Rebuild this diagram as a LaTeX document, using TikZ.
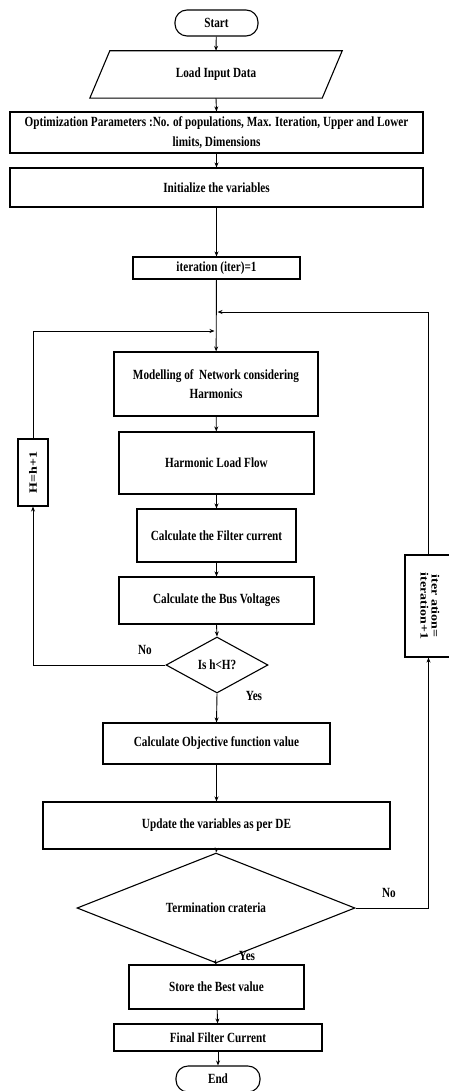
\documentclass[tikz,border=0pt]{standalone}
\usepackage{fontspec}
\setmainfont{Liberation Serif}[FakeStretch=0.8]
\newfontfamily\rotfont{Liberation Serif}[FakeStretch=1.25]
\usetikzlibrary{shapes.geometric,arrows.meta}
\begin{document}
\begin{tikzpicture}[x=1pt,y=-1pt,
  txt/.style={font=\bfseries\fontsize{14}{19.5}\selectfont, align=center},
  box/.style={txt, draw, line width=1.1pt, inner sep=2pt},
  term/.style={box, rounded corners=12pt},
  dia/.style={box, diamond, inner sep=0pt},
  rbox/.style={draw, line width=1.1pt, inner sep=0pt, font=\rotfont\bfseries\fontsize{11.2}{12}\selectfont},
  arr/.style={line width=0.9pt, -{Stealth[length=5pt,width=4pt]}},
  lbl/.style={font=\bfseries\fontsize{14}{16}\selectfont, inner sep=0pt}
]
\useasboundingbox (0,0) rectangle (449,1091);

\node[term, minimum width=83, minimum height=26] (start) at (216.5,23) {Start};
\node[txt, minimum width=232, minimum height=47, inner sep=0pt] (ld) at (216,74.5) {Load Input Data};
\draw[line width=1.1pt] ([xshift=10pt]ld.north west) -- ([xshift=10pt]ld.north east) -- ([xshift=-10pt]ld.south east) -- ([xshift=-10pt]ld.south west) -- cycle;
\node[box, minimum width=413, minimum height=41] (opt) at (216.5,132.5) {Optimization Parameters :No. of populations, Max. Iteration, Upper and Lower\\limits, Dimensions};
\node[box, minimum width=413, minimum height=39] (init) at (216.5,187.5) {Initialize the variables};
\node[box, minimum width=167, minimum height=22] (iter) at (216.5,268) {iteration (iter)=1};
\node[box, minimum width=204, minimum height=64] (model) at (216,384) {Modelling of\ \ Network considering\\Harmonics};
\node[box, minimum width=195, minimum height=62] (hlf) at (216.5,463) {Harmonic Load Flow};
\node[box, minimum width=159, minimum height=53] (cfc) at (216.5,535.5) {Calculate the Filter current};
\node[box, minimum width=195, minimum height=47] (cbv) at (216.5,600.5) {Calculate the Bus Voltages};
\node[dia, minimum width=102, minimum height=56] (hh) at (217,665) {Is h<H?};
\node[box, minimum width=227, minimum height=41] (obj) at (216.5,743.5) {Calculate Objective function value};
\node[box, minimum width=347, minimum height=47] (upd) at (216.5,825.5) {Update the variables as per DE};
\node[dia, minimum width=278, minimum height=82] (tc) at (216,908) {Termination crateria};
\node[box, minimum width=175, minimum height=44] (store) at (216.5,987) {Store the Best value};
\node[box, minimum width=208, minimum height=27] (final) at (218,1037.5) {Final Filter Current};
\node[term, minimum width=84, minimum height=26] (end) at (218,1079) {End};

\node[rbox, minimum width=30, minimum height=67] (hbox) at (33,472.5) {\rotatebox{90}{H=h+1}};
\node[rbox, minimum width=47, minimum height=102] (ibox) at (428.5,606) {\rotatebox{-90}{\begin{tabular}{@{}c@{}}iter ation=\\[-1pt]iteration+1\end{tabular}}};

\coordinate (j1) at (216.5,312);
\coordinate (j2) at (216.5,331);

\draw[arr] (start) -- (ld.north);
\draw[arr] (ld.south) -- (opt.north);
\draw[arr] (opt) -- (init);
\draw[arr] (init) -- (iter);
\draw[arr] (iter) -- (model);
\draw[arr] (model) -- (hlf);
\draw[arr] (hlf) -- (cfc);
\draw[arr] (cfc) -- (cbv);
\draw[arr] (cbv.south) -- (hh.north);
\draw[arr] (hh.south) -- (obj.north);
\draw[arr] (obj) -- (upd);
\draw[arr] (upd.south) -- (tc.north);
\draw[arr] (tc.south) -- (store.north);
\draw[arr] (store) -- (final);
\draw[arr] (final) -- (end);

\draw[arr] (hh.west) -| (hbox.south);
\draw[arr] (hbox.north) |- ([xshift=-2pt]j2);
\draw[arr] (tc.east) -| (ibox.south);
\draw[arr] (ibox.north) |- ([xshift=1pt]j1);

\node[lbl] at (145,650) {No};
\node[lbl] at (254,696) {Yes};
\node[lbl] at (389,893) {No};
\node[lbl] at (247,956) {Yes};
\end{tikzpicture}
\end{document}
